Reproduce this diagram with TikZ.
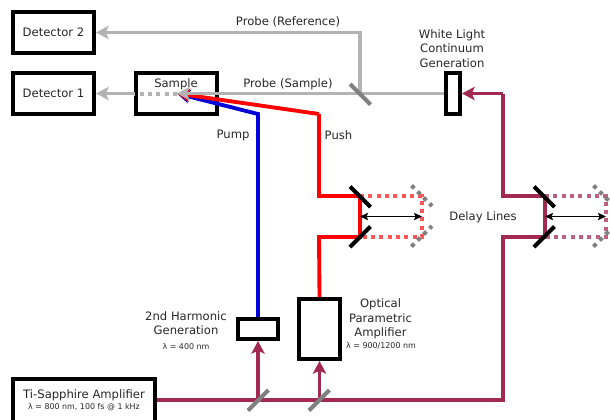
\documentclass[tikz,border=0pt]{standalone}
\usepackage{fontspec}
\setmainfont{DejaVu Sans}
\usepackage{xcolor}
\usetikzlibrary{arrows.meta, calc, positioning}
\definecolor{beamgrey}{HTML}{B3B3B3}
\definecolor{mirrorgrey}{HTML}{808080}
\definecolor{beampurple}{HTML}{A22A52}
\definecolor{dotpurple}{HTML}{C0607F}
\definecolor{dotred}{HTML}{FF5555}
\definecolor{beamblue}{HTML}{0000D8}

\tikzset{
    box/.style={draw=black, line width=3pt, inner sep=0pt, text=black!85, font=\fontsize{8.7}{10.9}\selectfont},
    txt/.style={inner sep=0pt, align=center, text=black!85, font=\fontsize{8.7}{10.9}\selectfont},
    small/.style={inner sep=0pt, align=center, text=black!85, font=\fontsize{5.95}{7}\selectfont},
    beam/.style={line width=2.9pt, line join=miter},
    tip/.style={-{Stealth[length=9.5pt, width=10pt, inset=2.2pt]}},
    dots/.style={line width=3pt, dash pattern=on 3pt off 3.25pt},
    mirror/.style={line width=3pt, black},
    splitter/.style={line width=3pt, mirrorgrey},
    ghost/.style={line width=3pt, mirrorgrey, dash pattern=on 3pt off 3.4pt},
    travel/.style={line width=0.9pt, black, {Stealth[length=6pt, width=5.5pt, inset=1pt]}-{Stealth[length=6pt, width=5.5pt, inset=1pt]}}
}

\begin{document}
\begin{tikzpicture}[x=0.75pt, y=-0.75pt]
    \useasboundingbox (0, 0) rectangle (610, 419);

    % boxes
    \node[box, minimum width=60.75pt, minimum height=30.75pt] (detb) at (53.5, 32.5) {Detector 2};
    \node[box, minimum width=60.75pt, minimum height=30.75pt] (deta) at (53.5, 93.5) {Detector 1};
    \node[box, minimum width=60.75pt, minimum height=30.75pt] (sample) at (176.5, 93.5) {};
    \node[box, minimum width=10.5pt, minimum height=30.75pt] (wlc) at (453, 93.5) {};
    \node[box, minimum width=30pt, minimum height=15pt] (shg) at (258, 329) {};
    \node[box, minimum width=30.75pt, minimum height=45pt] (opa) at (319.5, 329) {};
    \node[box, minimum width=107pt, minimum height=33pt, align=center] (ampl) at (84, 400.5) {%
        Ti-Sapphire Amplifier\\[-3pt]{\fontsize{5.95}{7}\selectfont λ = 800 nm, 100 fs @ 1 kHz}};

    % points along the beams
    \coordinate (focus) at (177, 93.5);
    \coordinate (refsplit) at (360, 93.5);
    \coordinate (refcorner) at (360, 32.5);
    \coordinate (pumpbend) at (258, 114);
    \coordinate (pushbend) at (319, 114);
    \coordinate (pushupper) at (319, 196);
    \coordinate (pushlower) at (319, 237);
    \coordinate (redtop) at (360, 196);
    \coordinate (redbot) at (360, 237);
    \coordinate (redtopfar) at (422, 196);
    \coordinate (redbotfar) at (422, 237);
    \coordinate (purpupper) at (503, 196);
    \coordinate (purplower) at (503, 237);
    \coordinate (purptop) at (545, 196);
    \coordinate (purpbot) at (545, 237);
    \coordinate (purptopfar) at (606, 196);
    \coordinate (purpbotfar) at (606, 237);
    \coordinate (purpcorner) at (503, 400);
    \coordinate (purphigh) at (503, 93.5);
    \coordinate (shgsplit) at (258, 400);
    \coordinate (opasplit) at (319.5, 400);

    % pump and push
    \draw[beam, beamblue, tip] (shg) -- (pumpbend) -- (focus);
    \draw[beam, red] (opa.north) -- (pushlower) -- (redbot) -- (redtop) -- (pushupper) -- (pushbend);
    \draw[beam, red, tip] (pushbend) -- (focus);
    \draw[dots, dotred] (redtop) -- (redtopfar) -- (redbotfar) -- (redbot);

    % amplifier output
    \draw[beam, beampurple] (ampl.east |- purpcorner) -- (purpcorner) -- (purplower) -- (purpbot) -- (purptop) -- (purpupper) -- (purphigh);
    \draw[beam, beampurple, tip] (purphigh) -- (wlc);
    \draw[beam, beampurple, tip] (shgsplit) -- (shg);
    \draw[beam, beampurple, tip] (opasplit) -- (opa);
    \draw[dots, dotpurple] (purptop) -- (purptopfar) -- (purpbotfar) -- (purpbot);

    % probe
    \draw[beam, beamgrey, tip] (wlc) -- (focus);
    \draw[beam, beamgrey, tip] (refsplit) -- (refcorner) -- (detb);
    \draw[dots, beamgrey] (focus) -- (sample.west);
    \draw[beam, beamgrey, tip] (sample) -- (deta);

    % mirrors
    \draw[splitter] (350, 84) -- (370.5, 104.5);
    \draw[splitter] (248, 410.5) -- (268.5, 390);
    \draw[splitter] (309, 410.5) -- (329.5, 390);
    \draw[mirror] (350, 186.5) -- (370.5, 207);
    \draw[mirror] (350, 247) -- (370.5, 226.5);
    \draw[mirror] (534, 186.5) -- (554.5, 207);
    \draw[mirror] (534, 247) -- (554.5, 226.5);

    % moved mirrors
    \draw[ghost] (411.5, 185.5) -- (432, 206);
    \draw[ghost] (411.5, 246.5) -- (432, 226);
    \draw[ghost] (593.5, 185.5) -- (614, 206);
    \draw[ghost] (593.5, 246.5) -- (614, 226);

    % travel
    \draw[travel] (redtop |- 0, 216.5) -- (redtopfar |- 0, 216.5);
    \draw[travel] (purptop |- 0, 216.5) -- (purptopfar |- 0, 216.5);

    % labels
    \node[txt] (sampletext) at (176, 84) {Sample};
    \node[txt] (refprobe) at (288, 21.5) {Probe (Reference)};
    \node[txt] (sampleprobe) at (288, 84) {Probe (Sample)};
    \node[txt] (pumptext) at (233, 135) {Pump};
    \node[txt] (pushtext) at (338.5, 135) {Push};
    \node[txt] (wlctext) at (452, 48.5) {White Light\\Continuum\\Generation};
    \node[txt] (delaytext) at (483, 217) {Delay Lines};
    \node[txt] (shgtext) at (186, 323) {2nd Harmonic\\Generation};
    \node[small] (shgsmall) at (186, 347) {λ = 400 nm};
    \node[txt] (opatext) at (380.5, 319) {Optical\\Parametric\\Amplifier};
    \node[small] (opasmall) at (381, 346) {λ = 900/1200 nm};
\end{tikzpicture}
\end{document}
